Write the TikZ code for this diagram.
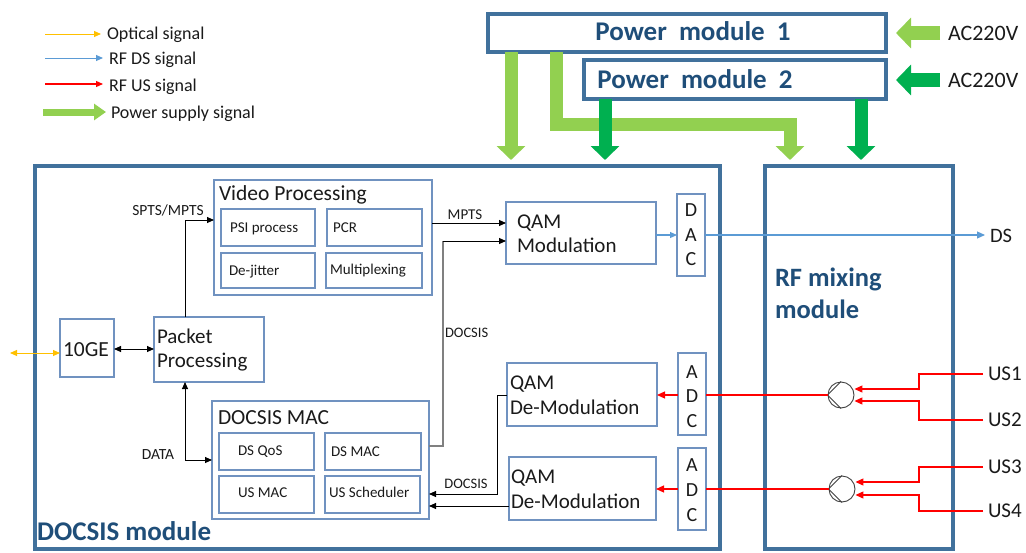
\documentclass[tikz,border=0pt]{standalone}
\usepackage{fontspec}
\setmainfont{Carlito}
\usetikzlibrary{arrows.meta,calc}
\definecolor{bigblue}{HTML}{41719C}
\definecolor{boxblue}{HTML}{7092C0}
\definecolor{hdblue}{HTML}{1F4E79}
\definecolor{lgreen}{HTML}{92D050}
\definecolor{dgreen}{HTML}{00B050}
\definecolor{optc}{HTML}{FFC000}
\definecolor{dsblue}{HTML}{5B9BD5}
\definecolor{usred}{HTML}{FF0000}
\definecolor{txtc}{HTML}{1A1A1A}
\definecolor{grayln}{HTML}{808080}
\newcommand\bx[6]{\node[#6, minimum width={#4-#2}, minimum height={#5-#3}, anchor=north west] (#1) at (#2,#3) {};}
\newcommand\fs[1]{\fontsize{#1}{#1}\selectfont}
\begin{document}
\begin{tikzpicture}[x=1pt,y=-1pt,
  small/.style={rectangle, draw=boxblue, line width=1.3pt, inner sep=0pt, outer sep=0pt},
  big/.style={rectangle, draw=bigblue, line width=4pt, inner sep=0pt, outer sep=0pt},
  pmbox/.style={rectangle, draw=bigblue, line width=3.5pt, inner sep=0pt, outer sep=0pt},
  txt/.style={inner sep=0pt, outer sep=0pt, text depth=0pt, text=txtc},
  sz/.style={font=\fs{#1}, text height={0.66*#1}},
  szb/.style={font=\fs{#1}\bfseries, text height={0.66*#1}},
  hd/.style={txt, text=hdblue, szb=27},
  arr/.style={-{Triangle[length=7pt,width=6pt]}, line width=0.9pt, draw=black},
  arrb/.style={{Triangle[length=7pt,width=6pt]}-{Triangle[length=7pt,width=6pt]}, line width=0.9pt, draw=black},
  redarr/.style={-{Triangle[length=8pt,width=7pt]}, line width=1.2pt, usred},
  pwl/.style={-{Triangle[length=14pt,width=28pt]}, line width=13pt, draw=lgreen},
  pwd/.style={-{Triangle[length=14pt,width=28pt]}, line width=13pt, draw=dgreen},
]
\useasboundingbox (0,0) rectangle (1026,552);

% ---------- legend ----------
\coordinate (l1a) at (45,34);  \coordinate (l1b) at (101,34);
\coordinate (l2a) at (45,58);  \coordinate (l2b) at (103,58);
\coordinate (l3a) at (45,84);  \coordinate (l3b) at (103,84);
\coordinate (l4a) at (43,112); \coordinate (l4b) at (106,112);
\draw[-{Triangle[length=7pt,width=6pt]}, line width=1pt, optc] (l1a) -- (l1b);
\draw[-{Triangle[length=7pt,width=6pt]}, line width=1pt, dsblue] (l2a) -- (l2b);
\draw[-{Triangle[length=7pt,width=6pt]}, line width=1.2pt, usred] (l3a) -- (l3b);
\draw[-{Triangle[length=12pt,width=16pt]}, line width=7pt, lgreen] (l4a) -- (l4b);
\node[txt, anchor=west, sz=18] (lt1) at (107,34) {Optical signal};
\node[txt, anchor=west, sz=18] (lt2) at (109,59) {RF DS signal};
\node[txt, anchor=west, sz=18] (lt3) at (109,86) {RF US signal};
\node[txt, anchor=west, sz=18] (lt4) at (111,113) {Power supply signal};

% ---------- power modules ----------
\bx{pm1}{488}{14}{886}{52}{pmbox}
\bx{pm2}{584}{60}{886}{99}{pmbox}
\node[hd] at (693,32) {Power\ \ module\ \ 1};
\node[hd] at (695,80) {Power\ \ module\ \ 2};
\node[txt, anchor=west, sz=22] (ac1) at (948,33) {AC220V};
\node[txt, anchor=west, sz=22] (ac2) at (948,80) {AC220V};
\draw[-{Triangle[length=15pt,width=30pt]}, line width=14pt, lgreen] ($(ac1.west)+(-8,0)$) -- ($(pm1.east)+(10,0)$);
\draw[-{Triangle[length=15pt,width=30pt]}, line width=14pt, dgreen] ($(ac2.west)+(-8,0)$) -- ($(pm2.east |- ac2.west)+(10,0)$);

% ---------- big modules ----------
\bx{docsis}{35}{166}{720}{549}{big}
\bx{rfmix}{765}{166}{953}{549}{big}
\node[hd, anchor=west] at (37,532) {DOCSIS module};
\node[hd, anchor=west, szb=26.5] at (775,278) {RF mixing};
\node[hd, anchor=west, szb=26.5] at (775,310) {module};

% power feeds
\draw[pwl] (511,0 |- pm1.south) -- (511,0 |- 0,160);
\draw[pwl] (556,0 |- pm1.south) -- (556,124) -- (790,124) -- (790,160);
\draw[pwd] (605,0 |- pm2.south) -- (605,160);
\draw[pwd] (861,0 |- pm2.south) -- (861,160);

% ---------- video processing ----------
\bx{video}{214}{180}{432}{295}{small}
\node[txt, anchor=west, sz=21.5] at (219,193) {Video Processing};
\bx{psi}{221}{209}{315}{246}{small}
\bx{pcr}{327}{209}{422}{246}{small}
\bx{dejit}{221}{253}{315}{288}{small}
\bx{mux}{326}{253}{422}{288}{small}
\node[txt, anchor=west, sz=15] at (230,228) {PSI process};
\node[txt, anchor=west, sz=15] at (333,228) {PCR};
\node[txt, anchor=west, sz=15] at (229,271) {De-jitter};
\node[txt, anchor=west, sz=15] at (330,270) {Multiplexing};

% ---------- 10GE & packet ----------
\bx{ge}{60}{319}{114}{377}{small}
\node[txt, sz=21.5] at (86,349) {10GE};
\bx{pkt}{154}{317}{264}{382}{small}
\node[txt, anchor=west, sz=21] at (157,337) {Packet};
\node[txt, anchor=west, sz=21] at (157,361) {Processing};

% ---------- QAM modulation / DAC ----------
\bx{qammod}{506}{202}{656}{264}{small}
\node[txt, anchor=west, sz=21] at (517,222) {QAM};
\node[txt, anchor=west, sz=21] at (517,246) {Modulation};
\bx{dac}{677}{194}{705}{276}{small}
\node[txt, sz=20] at (691,210) {D};
\node[txt, sz=20] at (691,235) {A};
\node[txt, sz=20] at (691,259) {C};

% ---------- QAM demod / ADC ----------
\bx{qd1}{507}{363}{657}{426}{small}
\node[txt, anchor=west, sz=21] at (510,383) {QAM};
\node[txt, anchor=west, sz=21] at (510,408) {De-Modulation};
\bx{qd2}{509}{457}{656}{520}{small}
\node[txt, anchor=west, sz=21] at (511,477) {QAM};
\node[txt, anchor=west, sz=21] at (511,502) {De-Modulation};
\bx{adc1}{678}{353}{706}{435}{small}
\node[txt, sz=20] at (692,372) {A};
\node[txt, sz=20] at (692,396) {D};
\node[txt, sz=20] at (692,421) {C};
\bx{adc2}{678}{448}{706}{530}{small}
\node[txt, sz=20] at (692,465) {A};
\node[txt, sz=20] at (692,490) {D};
\node[txt, sz=20] at (692,515) {C};

% ---------- DOCSIS MAC ----------
\bx{mac}{212}{401}{429}{519}{small}
\node[txt, anchor=west, sz=21.5] at (218,417) {DOCSIS MAC};
\bx{dsqos}{219}{433}{314}{470}{small}
\bx{dsmac}{325}{433}{421}{470}{small}
\bx{usmac}{219}{476}{314}{513}{small}
\bx{ussch}{325}{476}{420}{513}{small}
\node[txt, anchor=west, sz=15] at (238,451) {DS QoS};
\node[txt, anchor=west, sz=15] at (331,452) {DS MAC};
\node[txt, anchor=west, sz=15] at (238,493) {US MAC};
\node[txt, anchor=west, sz=15] at (329,493) {US Scheduler};

% ---------- combiners ----------
\node[circle, draw=black!75, line width=0.9pt, minimum size=26pt, inner sep=0pt] (c1) at (841,395) {};
\node[circle, draw=black!75, line width=0.9pt, minimum size=26pt, inner sep=0pt] (c2) at (842,489) {};
\draw[black!75, line width=0.9pt] (c1.west) -- (c1.north) (c1.west) -- (c1.south);
\draw[black!75, line width=0.9pt] (c2.west) -- (c2.north) (c2.west) -- (c2.south);

% ---------- outside labels ----------
\node[txt, anchor=west, sz=20.5] (ds) at (990,236) {DS};
\node[txt, anchor=west, sz=21] (us1) at (988,374) {US1};
\node[txt, anchor=west, sz=21] (us2) at (988,420) {US2};
\node[txt, anchor=west, sz=21] (us3) at (988,467) {US3};
\node[txt, anchor=west, sz=21] (us4) at (988,511) {US4};

% ---------- connectors ----------
\coordinate (optend) at (10,353);
\draw[{Triangle[length=7pt,width=6pt]}-{Triangle[length=7pt,width=6pt]}, line width=1pt, optc] (optend) -- (ge.west |- optend);
\draw[arrb] (ge.east |- 0,349) -- (pkt.west |- 0,349);
\draw[arr] (185,0 |- pkt.north) |- (video.west |- 0,220);
\node[txt, sz=15.5] at (168,210) {SPTS/MPTS};
\draw[arr] (video.east |- 0,223) -- (qammod.west |- 0,223);
\node[txt, sz=15] at (465,215) {MPTS};
\draw[line width=1.2pt, grayln] (mac.east |- 0,446) -- (443,446) -- (443,241);
\draw[arr] (443,241) -- (qammod.west |- 0,241);
\node[txt, anchor=west, sz=14.5] at (445,333) {DOCSIS};
\draw[arrb] (185,0 |- pkt.south) |- (mac.west |- 0,460);
\node[txt, sz=15.5] at (158,454) {DATA};
\draw[-{Triangle[length=7pt,width=6pt]}, line width=1.1pt, dsblue] (qammod.east |- 0,235) -- (dac.west |- 0,235);
\draw[-{Triangle[length=8pt,width=7pt]}, line width=1.1pt, dsblue] (dac.east |- 0,235) -- ($(ds.west |- 0,235)+(-5,0)$);
\draw[redarr] (adc1.west |- c1.west) -- (qd1.east |- c1.west);
\draw[redarr] (adc2.west |- c2.west) -- (qd2.east |- c2.west);
\draw[usred, line width=1.2pt] (c1.west) -- (adc1.east |- c1.west);
\draw[usred, line width=1.2pt] (c2.west) -- (adc2.east |- c2.west);
\draw[redarr] ($(us1.west)+(-5,0)$) -| (919,389) -- (c1.east |- 0,389);
\draw[redarr] ($(us2.west)+(-5,0)$) -| (919,401) -- (c1.east |- 0,401);
\draw[redarr] ($(us3.west)+(-5,0)$) -| (919,482) -- (c2.east |- 0,482);
\draw[redarr] ($(us4.west)+(-5,0)$) -| (919,495) -- (c2.east |- 0,495);
\draw[arr] (qd1.west |- c1.west) -- (497,395) -- (497,494) -- (mac.east |- 0,494);
\node[txt, sz=14.5] at (466,484) {DOCSIS};
\draw[arr] (qd2.west |- 0,506) -- (mac.east |- 0,506);
\end{tikzpicture}
\end{document}
